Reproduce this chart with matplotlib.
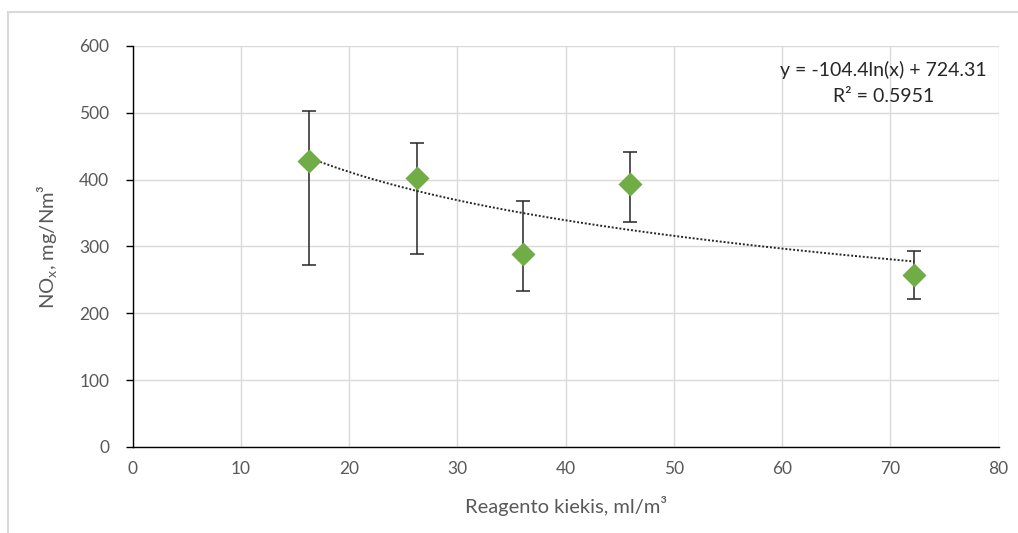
import numpy as np
import matplotlib
matplotlib.use("Agg")
import matplotlib.pyplot as plt
from matplotlib.patches import Rectangle

# Data
x_vals = [16.3, 26.3, 36.1, 45.9, 72.2]
y_vals = [428, 403, 289, 394, 257]
y_upper = [503, 455, 368, 442, 293]
y_lower = [272, 289, 233, 337, 221]
trend_a = -104.4
trend_b = 724.31
eq_text = "y = -104.4ln(x) + 724.31"
r2_text = "R² = 0.5951"
x_ticks = [0, 10, 20, 30, 40, 50, 60, 70, 80]
y_ticks = [0, 100, 200, 300, 400, 500, 600]

plt.rcParams['font.family'] = ['Lato', 'DejaVu Sans']

fig = plt.figure(figsize=(10.18, 5.33), dpi=100)
ax = fig.add_axes([0.1304, 0.1614, 0.8506, 0.7523])

x = np.array(x_vals)
y = np.array(y_vals)
yerr = np.vstack([y - np.array(y_lower), np.array(y_upper) - y])

ax.errorbar(x, y, yerr=yerr, fmt='none', ecolor='#262626', elinewidth=1.1,
            capsize=5, capthick=1.1, zorder=3)
ax.scatter(x, y, marker='D', s=150, color='#70AD47', zorder=4, linewidths=0)

xt = np.linspace(x.min(), x.max(), 200)
ax.plot(xt, trend_a * np.log(xt) + trend_b, linestyle=(0, (1, 1)),
        color='#262626', linewidth=1.4, zorder=3.5)

ax.set_xlim(0, 80)
ax.set_ylim(0, 600)
ax.set_xticks(x_ticks)
ax.set_yticks(y_ticks)
ax.grid(True, color='#D9D9D9', linewidth=1)
ax.set_axisbelow(True)
for s in ['top', 'right']:
    ax.spines[s].set_visible(False)
ax.spines['left'].set_color('#000000')
ax.spines['bottom'].set_color('#000000')
ax.spines['left'].set_linewidth(1)
ax.spines['bottom'].set_linewidth(1)
ax.tick_params(axis='x', length=0, pad=10, labelsize=12.5, labelcolor='#595959')
ax.tick_params(axis='y', length=5, width=1, pad=12, labelsize=12.5, labelcolor='#595959')

ax.set_xlabel("Reagento kiekis, ml/m³", fontsize=14.5, color='#595959', labelpad=14)
ax.set_ylabel("NO$_\\mathregular{x}$, mg/Nm³", fontsize=14.5, color='#595959', labelpad=14)

ax.text(0.867, 0.940, eq_text, transform=ax.transAxes, ha='center', va='center',
        fontsize=14, color='#262626')
ax.text(0.867, 0.873, r2_text, transform=ax.transAxes, ha='center', va='center',
        fontsize=14, color='#262626')

fig.patches.append(Rectangle((0.008, -0.01), 1.5, 0.988, transform=fig.transFigure,
                             fill=False, edgecolor='#D9D9D9', linewidth=1.5))

fig.savefig("out.png", dpi=100)
